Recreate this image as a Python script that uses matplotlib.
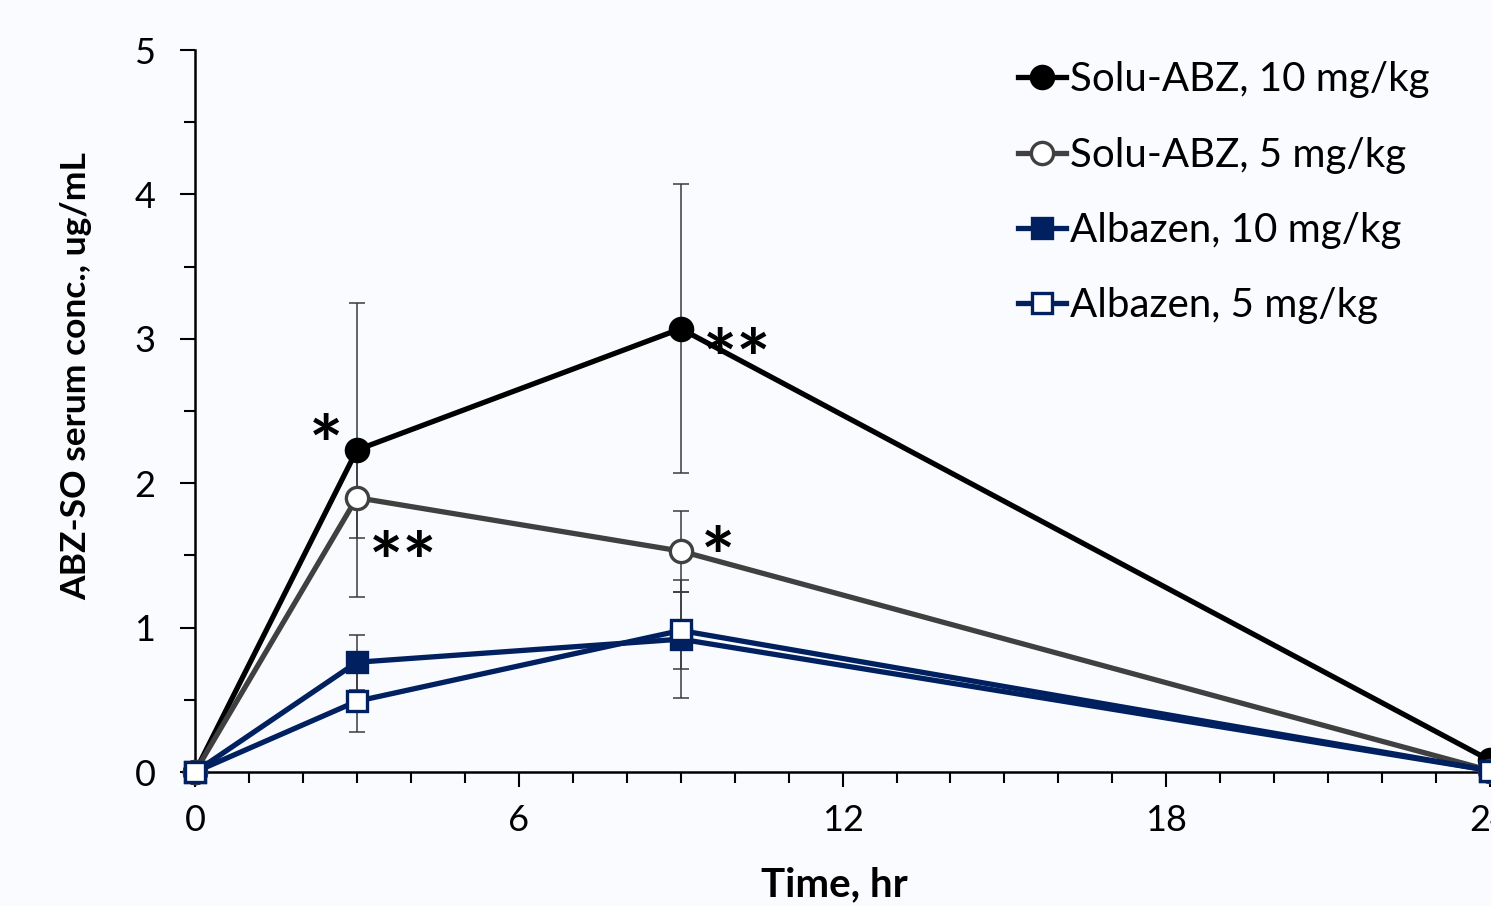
import numpy as np
import matplotlib.pyplot as plt
from matplotlib.ticker import MultipleLocator

plt.rcParams['font.family'] = ['Lato', 'DejaVu Sans']

time_hr = [0, 3, 9, 24]

solu10 = [0.0, 2.23, 3.07, 0.08]
solu10_err = [0.0, 1.02, 1.0, 0.06]
solu5 = [0.0, 1.90, 1.53, 0.01]
solu5_err = [0.0, 0.28, 0.28, 0.0]
alb10 = [0.0, 0.76, 0.92, 0.01]
alb10_err = [0.0, 0.19, 0.41, 0.0]
alb5 = [0.0, 0.49, 0.98, 0.01]
alb5_err = [0.0, 0.21, 0.27, 0.0]

series = [
    ("Solu-ABZ, 10 mg/kg", solu10, solu10_err, "o", "black", "black", "black"),
    ("Solu-ABZ, 5 mg/kg", solu5, solu5_err, "o", "#404040", "white", "#404040"),
    ("Albazen, 10 mg/kg", alb10, alb10_err, "s", "#002060", "#002060", "#002060"),
    ("Albazen, 5 mg/kg", alb5, alb5_err, "s", "#002060", "white", "#002060"),
]

# significance marks: (x, y, text)
stars = [(2.42, 2.22, "*"), (3.85, 1.41, "**"), (10.05, 2.82, "**"), (9.7, 1.45, "*")]

bg = "#f9fbfe"
fig = plt.figure(figsize=(14.91, 9.06), dpi=100, facecolor=bg)
ax = fig.add_axes([0.1308, 0.1479, 0.8686, 0.7969], facecolor=bg)

# error bars behind the lines
for label, y, err, m, lc, fc, ec in series:
    ax.errorbar(time_hr, y, yerr=err, fmt="none", ecolor="#3a3a3a",
                elinewidth=1.1, capsize=6, capthick=1.1, zorder=2, clip_on=False)

# later series drawn on top, as in the original
for i, (label, y, err, m, lc, fc, ec) in enumerate(series):
    ax.plot(time_hr, y, color=lc, lw=3.8, marker=m, markersize=16 if m == "o" else 15,
            markerfacecolor=fc, markeredgecolor=ec, markeredgewidth=2.4,
            zorder=3 + i, clip_on=False, label=label)

for x, y, s in stars:
    ax.text(x, y, s, fontsize=58, fontweight="bold", ha="center", va="center", zorder=10)

ax.set_xlim(0, 24)
ax.set_ylim(0, 5)
ax.xaxis.set_major_locator(MultipleLocator(6))
ax.xaxis.set_minor_locator(MultipleLocator(1))
ax.yaxis.set_major_locator(MultipleLocator(1))
ax.yaxis.set_minor_locator(MultipleLocator(0.5))
ax.tick_params(which="major", length=11, width=1.5, labelsize=26, pad=12)
ax.tick_params(which="minor", length=8, width=1.5)
ax.tick_params(axis="y", pad=25)
for t in ax.get_yticklabels():
    t.set_horizontalalignment("center")
ax.spines["top"].set_visible(False)
ax.spines["right"].set_visible(False)
for sp in ("left", "bottom"):
    ax.spines[sp].set_linewidth(1.8)

ax.set_xlabel("Time, hr", fontsize=29, fontweight="bold")
ax.set_ylabel("ABZ-SO serum conc., ug/mL", fontsize=25.5, fontweight="bold")
ax.xaxis.set_label_coords(0.494, -0.13)
ax.yaxis.set_label_coords(-0.0795, 0.548)

ax.legend(loc="upper left", bbox_to_anchor=(0.672, 0.95),
          bbox_transform=fig.transFigure, frameon=False, fontsize=29,
          handlelength=1.2, handletextpad=0.1, labelspacing=0.95, borderaxespad=0)

fig.savefig("out.png", dpi=100, facecolor=bg)
